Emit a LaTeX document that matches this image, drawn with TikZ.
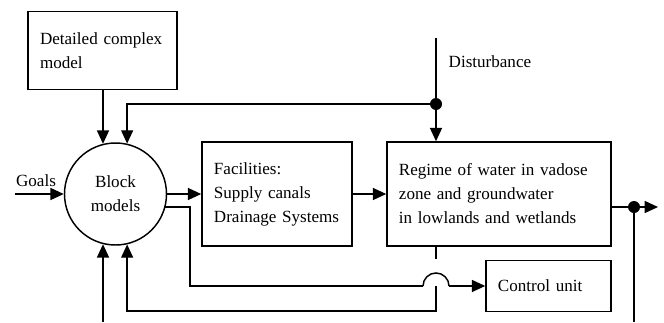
\documentclass[tikz,border=0pt]{standalone}
\usepackage{fontspec}
\setmainfont{Liberation Serif}
\usetikzlibrary{calc,positioning}
\usetikzlibrary{arrows.meta}
\tikzstyle{block} = [draw, line width=1.1pt, rectangle, align=left, inner xsep=9pt]
\tikzstyle{model} = [draw, line width=1.1pt, circle, minimum size=76.5pt, align=center, inner sep=0pt]
\tikzstyle{flow} = [-{Triangle[length=10pt,width=9pt]}, line width=1.1pt]
\tikzstyle{wire} = [line width=1.1pt]
\tikzstyle{junction} = [fill, circle, inner sep=0pt, minimum size=9pt]

\begin{document}
\begin{tikzpicture}[x=0.75pt, y=-0.75pt, font=\fontsize{12.8pt}{18pt}\selectfont]
\useasboundingbox (0,0) rectangle (664,322);

\node (blockmodels) at (115.5,194) [model] {Block\\models};
\node (detailed) [xshift=-9.75pt, yshift=+107.6pt] at (blockmodels) [block, text width=93.75pt, minimum height=58.5pt] {Detailed complex\\model};
\node (facilities) [xshift=+121.1pt] at (blockmodels) [block, text width=94.5pt, minimum height=78pt] {Facilities:\\Supply canals\\Drainage Systems};
\node (regime) [xshift=+166.5pt] at (facilities) [block, text width=150pt, minimum height=78pt] {Regime of water in vadose\\zone and groundwater\\in lowlands and wetlands};
\node (control) [anchor=north east, yshift=-9.75pt] at (regime.south east) [block, text width=75.75pt, minimum height=38.25pt] {Control unit};

\node (goals) at (36,181) {Goals};
\node (disturbance) [anchor=west] at (444,62) {Disturbance};

\coordinate (goalsin) at (15,194);
\coordinate (disturb) at (436,38);
\coordinate (baseline) at (0,322);
\coordinate (blockout) at (164,207);
\coordinate (gaptop) at (436,259);
\coordinate (cross) at (gaptop |- control.west);
\coordinate (turn) at (190,0 |- cross);
\coordinate (jumpleft) at ($(cross)+(-13,0)$);
\coordinate (jumpright) at ($(cross)+(13,0)$);
\coordinate (fbcorner) at (436,311);
\coordinate (regout) at ($(regime.east)+(0,13)$);
\coordinate (outend) at (658,207);
\node (distdot) [junction] at (436,104) {};
\node (outdot) [junction] at (634,207) {};

\draw [flow] (goalsin) -- (blockmodels.west);
\draw [flow] (detailed.south -| blockmodels.104) -- (blockmodels.104);
\draw [flow] (blockmodels.-104 |- baseline) -- (blockmodels.-104);
\draw [flow] (blockmodels.east) -- (facilities.west);
\draw [flow] (facilities.east) -- (regime.west);

\draw [wire] (disturb) -- (distdot);
\draw [flow] (distdot) -- (distdot |- regime.north);
\draw [flow] (distdot) -| (blockmodels.77);

\draw [wire] (regout) -- (outdot);
\draw [flow] (outdot) -- (outend);
\draw [wire] (outdot) -- (outdot |- baseline);

\draw [wire] (regime.south -| cross) -- (gaptop);
\draw [flow] (cross) -- (fbcorner) -| (blockmodels.-77);
\draw [wire] (blockout) -| (turn) -- (jumpleft);
\draw [wire] (jumpleft) arc (180:0:9.75pt);
\draw [flow] (jumpright) -- (control.west);
\end{tikzpicture}
\end{document}
